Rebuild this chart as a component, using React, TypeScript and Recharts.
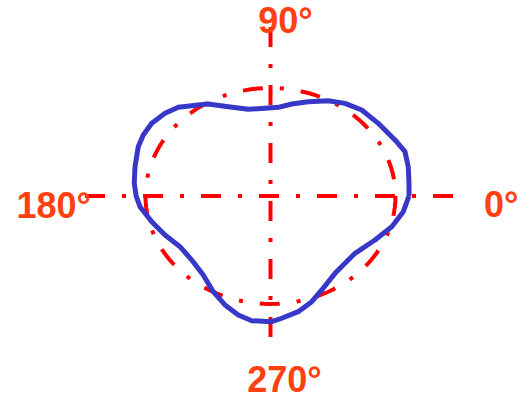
import React from 'react';
import { ScatterChart, Scatter, XAxis, YAxis, ReferenceLine } from 'recharts';

// Measured blue curve (x = r·cosθ, y = r·sinθ, red reference circle has radius 1)
const blueX = [1.108, 1.108, 1.102, 1.076, 0.996, 0.862, 0.73, 0.596, 0.462, 0.302, 0.17, 0.062, -0.044, -0.178, -0.338, -0.498, -0.578, -0.738, -0.844, -0.95, -1.018, -1.058, -1.084, -1.09, -1.075, -1.044, -0.95, -0.844, -0.724, -0.63, -0.538, -0.458, -0.364, -0.258, -0.15, 0.01, 0.09, 0.222, 0.33, 0.41, 0.516, 0.676, 0.836, 0.97, 1.062, 1.108];
const blueY = [0, 0.118, 0.271, 0.41, 0.519, 0.673, 0.796, 0.858, 0.882, 0.873, 0.852, 0.821, 0.812, 0.803, 0.827, 0.852, 0.843, 0.821, 0.766, 0.673, 0.565, 0.456, 0.271, 0.118, 0, -0.099, -0.238, -0.361, -0.469, -0.593, -0.731, -0.886, -1.009, -1.102, -1.155, -1.164, -1.132, -1.071, -0.979, -0.87, -0.716, -0.531, -0.407, -0.284, -0.145, 0];

// Reference circle: radius 1, traced from 0° clockwise
const refRadius = 1;
const refAngles = Array.from({ length: 121 }, (_, i) => -i * 3);

// Angle tick labels
const tickAngles = [0, 90, 180, 270];
const tickLabels = ['0°', '90°', '180°', '270°'];
const labelRadiusX = 1.75;
const labelRadiusY = 1.7;

// Axis line extents
const axisXRange = [-1.484, 1.476];
const axisYRange = [1.565, -1.315];

const rad = (d: number) => (d * Math.PI) / 180;

const blueData = blueX.map((x, i) => ({ x, y: blueY[i] }));
const refData = refAngles.map((a) => ({ x: refRadius * Math.cos(rad(a)), y: refRadius * Math.sin(rad(a)) }));
const labelData = tickAngles.map((a, i) => ({
  x: labelRadiusX * Math.round(Math.cos(rad(a))),
  y: labelRadiusY * Math.round(Math.sin(rad(a))),
  label: tickLabels[i],
}));

const labelOffsets: Record<string, [number, number]> = {
  '0°': [12, 8],
  '90°': [15, 8],
  '180°': [2, 9],
  '270°': [14, -1],
};

const RED = '#ff0000';
const BLUE = '#3737c8';
const LABEL = '#ff4010';
const DASH = '20 17 4 17';

const NoDot = () => <g />;

const LabelShape = (props: any) => {
  const { cx, cy, payload } = props;
  const [dx, dy] = labelOffsets[payload.label] || [0, 0];
  return (
    <text
      x={cx + dx}
      y={cy + dy + 13}
      textAnchor="middle"
      fill={LABEL}
      fontFamily="'Liberation Sans', Arial, sans-serif"
      fontWeight="bold"
      fontSize={36}
    >
      {payload.label}
    </text>
  );
};

export default function App() {
  return (
    <div style={{ position: 'absolute', left: 0, top: 0, width: 524, height: 400, background: '#fff' }}>
      <ScatterChart width={524} height={400} margin={{ top: 0, right: 0, bottom: 0, left: 0 }}>
        <XAxis type="number" dataKey="x" hide domain={[-2.164, 2.028]} allowDataOverflow />
        <YAxis type="number" dataKey="y" hide domain={[-1.889, 1.815]} allowDataOverflow />
        <ReferenceLine
          segment={[{ x: axisXRange[0], y: 0 }, { x: axisXRange[1], y: 0 }]}
          stroke={RED}
          strokeWidth={4}
          strokeDasharray={DASH}
          ifOverflow="visible"
        />
        <ReferenceLine
          segment={[{ x: 0, y: axisYRange[0] }, { x: 0, y: axisYRange[1] }]}
          stroke={RED}
          strokeWidth={4}
          strokeDasharray={DASH}
          ifOverflow="visible"
        />
        <Scatter
          data={refData}
          line={{ stroke: RED, strokeWidth: 4, strokeDasharray: DASH, fill: 'none' }}
          shape={NoDot}
          isAnimationActive={false}
        />
        <Scatter
          data={blueData}
          line={{ stroke: BLUE, strokeWidth: 5, strokeLinejoin: 'round', fill: 'none' }}
          shape={NoDot}
          isAnimationActive={false}
        />
        <Scatter data={labelData} shape={LabelShape} isAnimationActive={false} />
      </ScatterChart>
    </div>
  );
}
